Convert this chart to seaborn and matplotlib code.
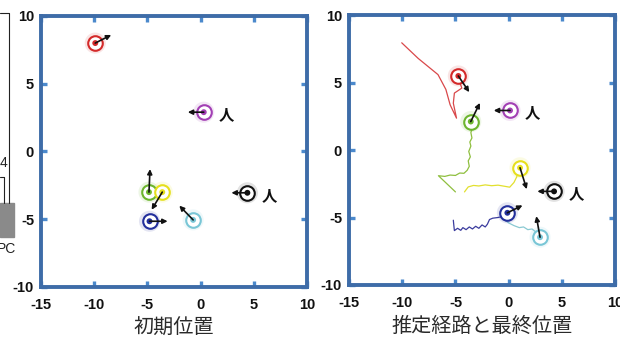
import matplotlib
matplotlib.use('Agg')
import numpy as np
import pandas as pd
import matplotlib.pyplot as plt
import seaborn as sns
from matplotlib.patches import Rectangle
from matplotlib.lines import Line2D

sns.set_theme(style='white')
plt.rcParams['font.family'] = ['Liberation Sans', 'Noto Sans CJK JP', 'DejaVu Sans']
plt.rcParams['axes.unicode_minus'] = False

# ---- data ----
robots = ['red', 'purple', 'black', 'green', 'yellow', 'blue', 'cyan']
colors = ['#d42a2a', '#a23fb4', '#111111', '#6db52e', '#e6df1c', '#232f9c', '#79c6d6']
path_colors = ['#d9484a', '#a23fb4', '#111111', '#8fbf3f', '#e2e02e', '#3b3c9e', '#8ac9d2']
is_person = [False, True, True, False, False, False, False]

# initial positions + heading arrow tips
init_x = [-9.9, 0.3, 4.4, -4.85, -3.6, -4.8, -0.7]
init_y = [8.0, 2.9, -3.05, -3.0, -3.0, -5.15, -5.05]
init_tip_x = [-8.4, -1.2, 2.9, -4.75, -4.6, -3.1, -2.0]
init_tip_y = [8.6, 2.9, -3.05, -1.3, -4.3, -5.15, -4.0]

# final positions + heading arrow tips
final_x = [-4.73, 0.13, 4.27, -3.56, 1.07, -0.12, 2.95]
final_y = [5.5, 2.94, -3.06, 2.12, -1.31, -4.65, -6.46]
final_tip_x = [-3.7, -1.4, 2.7, -2.7, 1.7, 1.3, 2.6]
final_tip_y = [4.3, 2.94, -3.06, 3.5, -2.9, -4.1, -4.9]

# estimated paths
red_px = [-10.05, -8.5, -6.64, -5.9, -5.5, -4.9, -5.2, -5.1, -4.4, -4.57, -4.73]
red_py = [7.96, 6.8, 5.6, 4.5, 3.36, 2.37, 3.48, 4.23, 4.6, 4.98, 5.5]
green_px = [-5.0, -5.8, -6.6, -6.0, -5.5, -5.0, -4.6, -4.2, -3.9, -3.7, -3.8, -3.6, -3.75, -3.55,
            -3.65, -3.45, -3.55, -3.4, -3.56]
green_py = [-3.1, -2.5, -1.9, -1.95, -1.85, -1.88, -1.7, -1.72, -1.5, -1.2, -0.8, -0.5, -0.1, 0.3,
            0.6, 0.9, 1.3, 1.7, 2.12]
yellow_px = [-4.15, -3.8, -3.3, -2.8, -2.2, -1.6, -1.0, -0.4, 0.1, 0.5, 0.75, 0.9, 1.07]
yellow_py = [-3.1, -2.73, -2.62, -2.66, -2.58, -2.64, -2.6, -2.68, -2.75, -2.4, -2.0, -1.65, -1.31]
blue_px = [-5.2, -5.15, -5.1, -4.8, -4.5, -4.3, -4.0, -3.7, -3.4, -3.1, -2.8, -2.5, -2.2, -2.0,
           -1.8, -1.5, -1.0, -0.5, -0.12]
blue_py = [-5.2, -5.6, -5.97, -5.8, -5.95, -5.75, -5.9, -5.7, -5.85, -5.65, -5.8, -5.55, -5.7,
           -5.5, -5.15, -5.05, -5.0, -4.9, -4.65]
cyan_px = [-0.5, 0.0, 0.5, 1.0, 1.4, 1.8, 2.2, 2.6, 2.95]
cyan_py = [-5.1, -5.4, -5.6, -5.75, -5.7, -5.9, -5.85, -6.1, -6.46]

paths = {'red': (red_px, red_py), 'green': (green_px, green_py), 'yellow': (yellow_px, yellow_py),
         'blue': (blue_px, blue_py), 'cyan': (cyan_px, cyan_py)}

x_ticks = [-15, -10, -5, 0, 5, 10]
y_ticks = [-10, -5, 0, 5, 10]
titles = ['初期位置', '推定経路と最終位置']

spine_col = '#3e6ca8'
tick_col = '#4b89cc'


def draw_robots(ax, xs, ys, tx, ty):
    df = pd.DataFrame({'x': xs, 'y': ys, 'robot': robots})
    pal = dict(zip(robots, colors))
    # soft halo
    sns.scatterplot(data=df, x='x', y='y', hue='robot', palette=pal, s=230, alpha=0.12,
                    edgecolor='none', legend=False, ax=ax, zorder=3)
    # centre dot
    sns.scatterplot(data=df, x='x', y='y', hue='robot', palette=pal, s=18,
                    edgecolor='none', legend=False, ax=ax, zorder=5)
    for i, r in enumerate(robots):
        ax.scatter(xs[i], ys[i], s=110, facecolors='white', edgecolors=colors[i], linewidths=1.5, zorder=4)
        ax.annotate('', xy=(tx[i], ty[i]), xytext=(xs[i], ys[i]),
                    arrowprops=dict(arrowstyle='-|>', color='#111111', lw=1.2, mutation_scale=7,
                                    shrinkA=0, shrinkB=0), zorder=6)
        if is_person[i]:
            ax.annotate('人', xy=(xs[i], ys[i]), xytext=(16, -1.5), textcoords='offset points',
                        ha='center', va='center', fontsize=11, fontweight='bold',
                        family=['Noto Sans CJK JP'], color='#111111')


fig = plt.figure(figsize=(6.2, 3.4), dpi=100)
ax1 = fig.add_axes([0.0661, 0.156, 0.429, 0.797])
ax2 = fig.add_axes([0.563, 0.162, 0.429, 0.793])

draw_robots(ax1, init_x, init_y, init_tip_x, init_tip_y)

for r, (px, py) in paths.items():
    i = robots.index(r)
    sns.lineplot(x=px, y=py, sort=False, estimator=None, color=path_colors[i], lw=0.9, ax=ax2, zorder=2)
draw_robots(ax2, final_x, final_y, final_tip_x, final_tip_y)

for ax, t in zip([ax1, ax2], titles):
    ax.set_xlim(-15, 10)
    ax.set_ylim(-10, 10)
    ax.set_xticks(x_ticks)
    ax.set_yticks(y_ticks)
    ax.tick_params(direction='in', length=4, width=2.4, color=tick_col, top=True, right=True,
                   bottom=True, left=True, labelsize=10.5, labelcolor='#111111')
    ax.tick_params(axis='x', pad=8)
    ax.tick_params(axis='y', pad=5)
    for lbl in ax.get_xticklabels() + ax.get_yticklabels():
        lbl.set_fontweight('bold')
    for s in ax.spines.values():
        s.set_color(spine_col)
        s.set_linewidth(2.8)
    ax.set_xlabel(t, fontsize=14.5, family=['Noto Sans CJK JP'], color='#2a2a2a', labelpad=4)
    ax.set_ylabel('')
    ax.grid(False)

# fragment of the neighbouring chart cut at the left edge
fig.add_artist(Line2D([0, 9 / 620], [1 - 13 / 340, 1 - 13 / 340], color='#222222', lw=0.8))
fig.add_artist(Line2D([9 / 620, 9 / 620], [1 - 13 / 340, 1 - 203 / 340], color='#222222', lw=0.8))
fig.add_artist(Line2D([0, 4 / 620], [1 - 177 / 340, 1 - 177 / 340], color='#222222', lw=0.8))
fig.add_artist(Line2D([4 / 620, 4 / 620], [1 - 177 / 340, 1 - 203 / 340], color='#222222', lw=0.8))
fig.add_artist(Rectangle((0, 1 - 237 / 340), 14 / 620, 34 / 340, color='#8a8a8a'))
fig.text(4 / 620, 1 - 163 / 340, '4', ha='center', va='center', fontsize=10, color='#222222')
fig.text(6 / 620, 1 - 249 / 340, 'PC', ha='center', va='center', fontsize=10, color='#222222')

fig.savefig('out.png', dpi=100)
